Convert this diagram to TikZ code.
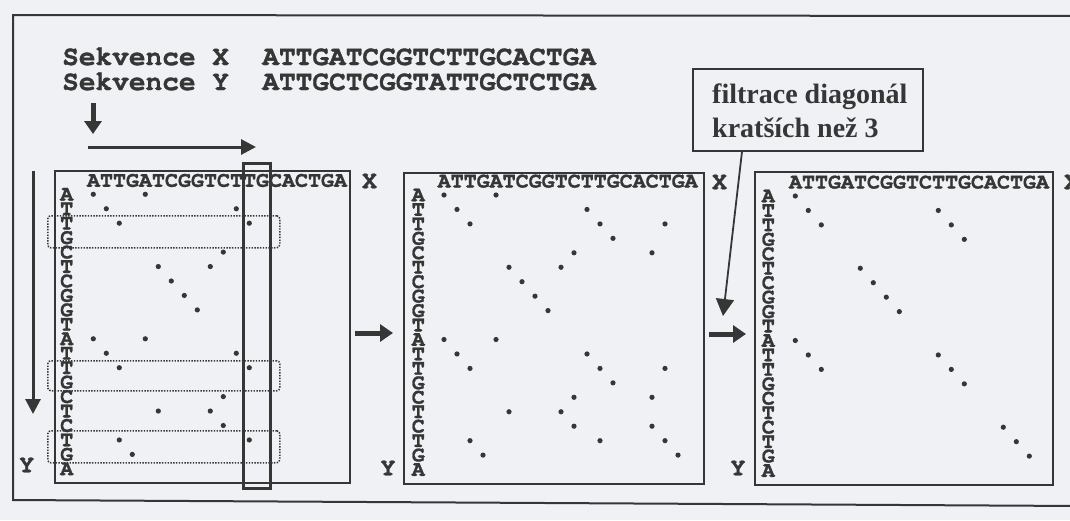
\documentclass[tikz,border=0pt]{standalone}
\usepackage{fontspec}
\setmonofont{texgyrecursor}[Extension=.otf, UprightFont=*-regular, BoldFont=*-bold, BoldFeatures={FakeBold=1.2}]
\newfontfamily\labelserif{Liberation Serif}
\usetikzlibrary{arrows.meta}

\definecolor{paper}{HTML}{EFF1F5}
\definecolor{ink}{HTML}{363636}

\tikzset{
  seqtext/.style={font=\ttfamily\bfseries\fontsize{21.67}{24}\selectfont, text=ink, inner sep=0pt},
  headtext/.style={font=\ttfamily\bfseries\fontsize{27.8}{30}\selectfont, text=ink, inner sep=0pt, anchor=base west},
  axislabel/.style={font=\ttfamily\bfseries\fontsize{25}{27}\selectfont, text=ink, inner sep=0pt},
  notetext/.style={font=\labelserif\bfseries\fontsize{28}{32}\selectfont, text=ink, inner sep=0pt, anchor=base west},
  panel/.style={draw=ink, line width=2pt, anchor=north west, inner sep=0pt},
  notebox/.style={draw=ink, line width=1.6pt, anchor=north west, inner sep=0pt},
  colbox/.style={draw=ink, line width=2.5pt, anchor=north west, inner sep=0pt},
  rowbox/.style={draw=ink, line width=1.5pt, dash pattern=on 1.4pt off 1.4pt, rounded corners=3pt, anchor=north west, inner sep=0pt},
  bigarrow/.style={draw=ink, line width=5pt, -{Triangle[length=13pt,width=17pt]}},
  longarrow/.style={draw=ink, line width=3pt, -{Triangle[length=15pt,width=15pt]}},
  thinarrow/.style={draw=ink, line width=1.8pt, -{Triangle[length=17pt,width=18pt]}},
  frame/.style={draw=ink, line width=2pt},
  matchdot/.style={fill=ink},
}

% one dot-plot panel: #1 name, #2 x of first column, #3 y of first row,
% #4 x of the stacked sequence Y, #5 list of row/column matches
\newcommand\dotplotpanel[5]{%
  \node[seqtext, anchor=base west] (#1-head) at ({#2-6.5},{#3-7.5}) {ATTGATCGGTCTTGCACTGA};
  \foreach \ch [count=\i] in {A,T,T,G,C,T,C,G,G,T,A,T,T,G,C,T,C,T,G,A}
    \node[seqtext] (#1-y\i) at (#4,{#3+(\i-1)*14.45}) {\ch};
  \foreach \r/\c in {#5}
    \fill[matchdot] ({#2+(\c-1)*13},{#3+(\r-1)*14.45}) circle (2.6pt);
}

\begin{document}
\begin{tikzpicture}[x=1pt,y=-1pt]
\fill[paper] (0,0) rectangle (1070,520);
\useasboundingbox (0,0) rectangle (1070,520);

% outer frame, open to the right
\draw[frame] (1080,16) -- (13,15) -- (13,500) -- (1080,506);

% the two sequences
\node[headtext] (seqx) at (62,65) {Sekvence~X~~ATTGATCGGTCTTGCACTGA};
\node[headtext] (seqy) at (62,90) {Sekvence~Y~~ATTGCTCGGTATTGCTCTGA};

% direction arrows
\coordinate (dA) at (93,103);
\coordinate (dB) at (93,134);
\draw[bigarrow] (dA) -- (dB);
\coordinate (hA) at (88,147);
\coordinate (hB) at (256,147);
\draw[longarrow] (hA) -- (hB);
\coordinate (vA) at (33,171);
\coordinate (vB) at (33,414);
\draw[longarrow] (vA) -- (vB);

% panel frames
\node[panel, minimum width=295pt, minimum height=312pt] (p1) at (54,170) {};
\node[panel, minimum width=300pt, minimum height=311pt] (p2) at (403,172) {};
\node[panel, minimum width=298pt, minimum height=313pt] (p3) at (754,171) {};

% scanning window in the first panel
\node[rowbox, minimum width=232pt, minimum height=32pt] (w1) at (47,215) {};
\node[rowbox, minimum width=232pt, minimum height=30pt] (w2) at (47,360) {};
\node[rowbox, minimum width=232pt, minimum height=32pt] (w3) at (47,430) {};
\node[colbox, minimum width=27pt, minimum height=325pt] (cb) at (242,162) {};

% dot plots
\dotplotpanel{p1}{93.3}{194.3}{66.7}{1/1,1/5,2/2,2/12,3/3,3/13,5/11,6/6,6/10,7/7,8/8,9/9,11/1,11/5,12/2,12/12,13/3,13/13,15/11,16/6,16/10,17/11,18/3,18/13,19/4}
\dotplotpanel{p2}{444}{195}{418.3}{1/1,1/5,2/2,2/12,3/3,3/13,3/18,4/14,5/11,5/17,6/6,6/10,7/7,8/8,9/9,11/1,11/5,12/2,12/12,13/3,13/13,13/18,14/14,15/11,15/17,16/6,16/10,17/11,17/17,18/3,18/13,18/18,19/4,19/19}
\dotplotpanel{p3}{795.3}{196}{768.3}{1/1,2/2,3/3,2/12,3/13,4/14,6/6,7/7,8/8,9/9,11/1,12/2,13/3,12/12,13/13,14/14,17/17,18/18,19/19}

% axis labels
\node[axislabel] (x1) at (369.5,181) {X};
\node[axislabel] (x2) at (719.5,182) {X};
\node[axislabel] (x3) at (1071.5,182) {X};
\node[axislabel] (ylab1) at (26.7,465) {Y};
\node[axislabel] (ylab2) at (388,468) {Y};
\node[axislabel] (ylab3) at (738,468) {Y};

% arrows between panels
\coordinate (s12) at (355,333);
\coordinate (e12) at (393,333);
\draw[bigarrow] (s12) -- (e12);
\coordinate (s23) at (709,334);
\coordinate (e23) at (746,334);
\draw[bigarrow] (s23) -- (e23);

% filtering note
\node[notebox, minimum width=230pt, minimum height=82pt] (filt) at (692,68) {};
\node[notetext] (ft1) at (712,103) {filtrace diagonál};
\node[notetext] (ft2) at (712,137) {kratších než 3};
\coordinate (fA) at ([xshift=50pt]filt.south west);
\coordinate (fB) at (723,316);
\draw[thinarrow] (fA) -- (fB);
\end{tikzpicture}
\end{document}
